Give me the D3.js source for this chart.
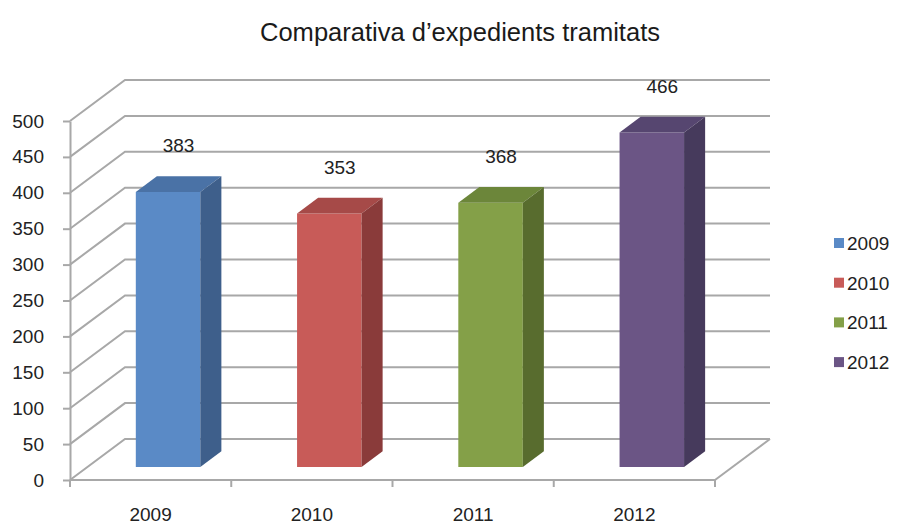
<!DOCTYPE html>
<html>
<head>
<meta charset="utf-8">
<script src="https://cdn.jsdelivr.net/npm/d3@7"></script>
<style>
  body { margin: 0; background: #fff; }
  text { font-family: "Liberation Sans", Arial, sans-serif; }
</style>
</head>
<body>
<div id="chart"></div>
<script>
// data
var years = ["2009", "2010", "2011", "2012"];
var values = [383, 353, 368, 466];
var frontColors = ["#5a8ac6", "#c85b58", "#84a048", "#6b5585"];
var topColors = ["#4a72a6", "#a64a48", "#6c863a", "#564670"];
var sideColors = ["#3e5f8b", "#8a3b3a", "#586c2e", "#463a5c"];
var title = "Comparativa d\u2019expedients tramitats";

var width = 898, height = 525;

// front plane of the plot and 3d depth offset
var x0 = 70, x1 = 715, yBottom = 480, yTop = 121;
var depthX = 55, depthY = -41;
var barZ0 = 0.317, barZ1 = 0.70;

var svg = d3.select("#chart").append("svg")
    .attr("width", width)
    .attr("height", height);

var y = d3.scaleLinear().domain([0, 500]).range([yBottom, yTop]);
var xCat = d3.scaleBand().domain(years).range([x0, x1]).padding(0);
var xBar = d3.scaleBand().domain(years).range([x0, x1]).paddingInner(0.6).paddingOuter(0.3);

function proj(x, yy, z) {
  return [x + depthX * z, yy + depthY * z];
}

var gridColor = "#a8a8a8";
var ticks = y.ticks(10);

// walls: left diagonals + back horizontals
var grid = svg.append("g").attr("fill", "none").attr("stroke", gridColor).attr("stroke-width", 2);
ticks.forEach(function(t) {
  var a = proj(x0, y(t), 0), b = proj(x0, y(t), 1), c = proj(x1, y(t), 1);
  grid.append("path").attr("d", "M" + a + "L" + b + "L" + c);
});
// floor right edge
var f1 = proj(x1, y(0), 0), f2 = proj(x1, y(0), 1);
grid.append("path").attr("d", "M" + f1 + "L" + f2);

// y axis
var yAxis = svg.append("g")
    .attr("transform", "translate(" + x0 + ",0)")
    .call(d3.axisLeft(y).tickValues(ticks).tickSize(7).tickSizeOuter(0).tickPadding(19));
yAxis.selectAll("line, path").attr("stroke", gridColor).attr("stroke-width", 2);
yAxis.selectAll("text").attr("font-size", 19).attr("fill", "#222")
    .attr("font-family", "Liberation Sans, Arial, sans-serif");

// x axis
var xAxisG = svg.append("g");
xAxisG.append("line")
    .attr("x1", x0).attr("x2", x1).attr("y1", yBottom).attr("y2", yBottom)
    .attr("stroke", gridColor).attr("stroke-width", 2);
var bounds = years.map(function(d) { return xCat(d); }).concat([xCat(years[years.length - 1]) + xCat.bandwidth()]);
xAxisG.selectAll(".xtick").data(bounds).enter().append("line")
    .attr("x1", function(d) { return d; }).attr("x2", function(d) { return d; })
    .attr("y1", yBottom).attr("y2", yBottom + 7)
    .attr("stroke", gridColor).attr("stroke-width", 2);
xAxisG.selectAll(".xlab").data(years).enter().append("text")
    .attr("x", function(d) { return xCat(d) + xCat.bandwidth() / 2; })
    .attr("y", 521)
    .attr("text-anchor", "middle")
    .attr("font-size", 19).attr("fill", "#222")
    .text(function(d) { return d; });

// bars
var bars = svg.append("g");
years.forEach(function(yr, i) {
  var xl = xBar(yr), xr = xl + xBar.bandwidth();
  var yb = y(0), yt = y(values[i]);
  var p = function(x, yy, z) { return proj(x, yy, z); };
  var g = bars.append("g");
  // front
  g.append("path").attr("fill", frontColors[i])
    .attr("d", "M" + p(xl, yb, barZ0) + "L" + p(xr, yb, barZ0) + "L" + p(xr, yt, barZ0) + "L" + p(xl, yt, barZ0) + "Z");
  // top
  g.append("path").attr("fill", topColors[i])
    .attr("d", "M" + p(xl, yt, barZ0) + "L" + p(xr, yt, barZ0) + "L" + p(xr, yt, barZ1) + "L" + p(xl, yt, barZ1) + "Z");
  // side
  g.append("path").attr("fill", sideColors[i])
    .attr("d", "M" + p(xr, yb, barZ0) + "L" + p(xr, yb, barZ1) + "L" + p(xr, yt, barZ1) + "L" + p(xr, yt, barZ0) + "Z");
  // value label
  var mid = (barZ0 + barZ1) / 2;
  var lp = p((xl + xr) / 2, yt, mid);
  g.append("text")
    .attr("x", lp[0]).attr("y", lp[1] - 32)
    .attr("text-anchor", "middle")
    .attr("font-size", 19).attr("fill", "#222")
    .text(values[i]);
});

// legend
var legend = svg.append("g").attr("transform", "translate(834,243)");
var li = legend.selectAll("g").data(years).enter().append("g")
    .attr("transform", function(d, i) { return "translate(0," + i * 39.7 + ")"; });
li.append("rect").attr("x", 0).attr("y", -5).attr("width", 10).attr("height", 10)
    .attr("fill", function(d, i) { return frontColors[i]; });
li.append("text").attr("x", 13).attr("y", 7)
    .attr("font-size", 19).attr("fill", "#222")
    .text(function(d) { return d; });

// title
svg.append("text")
    .attr("x", 460).attr("y", 41)
    .attr("text-anchor", "middle")
    .attr("font-size", 26)
    .attr("font-family", "'Noto Sans', Lato, sans-serif")
    .attr("font-weight", 300)
    .attr("textLength", 400)
    .attr("lengthAdjust", "spacingAndGlyphs")
    .attr("fill", "#1a1a1a")
    .text(title);
</script>
</body>
</html>
